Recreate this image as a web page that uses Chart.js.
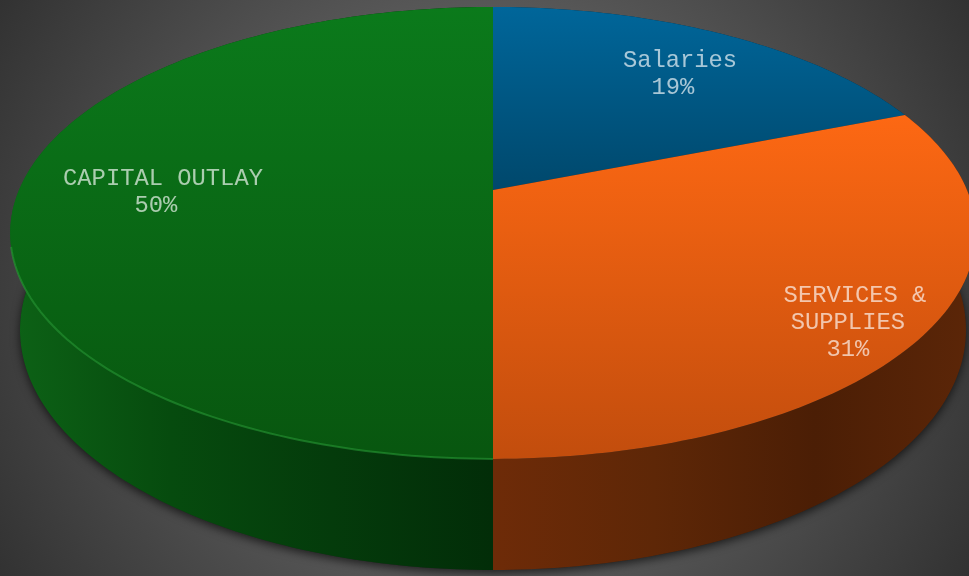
<!DOCTYPE html>
<html>
<head>
<meta charset="utf-8">
<title>Budget</title>
<script src="https://cdn.jsdelivr.net/npm/chart.js@4/dist/chart.umd.js"></script>
<style>
    html, body { margin: 0; padding: 0; overflow: hidden; }
    body {
        width: 969px;
        height: 576px;
        background: radial-gradient(circle 564px at 484px 288px, #7d7d7d 0%, #323232 100%);
    }
    canvas { display: block; }
</style>
</head>
<body>
<canvas id="grafico" width="969" height="576"></canvas>
<script>
const categorias = ["Salaries", "SERVICES & SUPPLIES", "CAPITAL OUTLAY"];
const valores = [19, 31, 50];

// line breaks and centre of each label
const lineasEtiqueta = [["Salaries"], ["SERVICES &", "SUPPLIES"], ["CAPITAL OUTLAY"]];
const posEtiqueta = [[680, 61], [855, 296], [163, 179]];

// top face: [light, dark], side wall: horizontal stops
const coloresCara = [["#00669a", "#00486c"], ["#fd6813", "#c24d0d"], ["#0b7a1b", "#08560f"]];
const coloresPared = [
    ["#002a40", "#002a40"],
    ["#6e2b08", "#5e2707", "#4b1e05", "#5c2608"],
    ["#0d6216", "#064b0e", "#043b0b", "#022d08"]
];

// perspective of the disc, the centre of the circle sits above the centre of the ellipse
const CX = 493, CY = 190;
const K = -0.19, A = 181.7, C = 474;
// lower edge of the wall
const BASE_Y = 330, BASE_RX = 473, BASE_RY = 240;

function puntoCara(ang) {
    const x = Math.cos(ang), y = Math.sin(ang);
    const w = 1 + K * y;
    return [CX + C * x / w, (CY + A * y) / w];
}

function puntoBase(ang) {
    return [CX + BASE_RX * Math.cos(ang), BASE_Y + BASE_RY * Math.sin(ang)];
}

function muestrear(ini, fin, fn) {
    const pasos = Math.ceil((fin - ini) / 0.02);
    const puntos = [];
    for (let i = 0; i <= pasos; i++) {
        puntos.push(fn(ini + (fin - ini) * i / pasos));
    }
    return puntos;
}

function trazar(ctx, puntos) {
    puntos.forEach((p, i) => i === 0 ? ctx.moveTo(p[0], p[1]) : ctx.lineTo(p[0], p[1]));
}

function dibujarSombra(ctx) {
    ctx.save();
    ctx.shadowColor = "rgba(0, 0, 0, 0.65)";
    ctx.shadowBlur = 10;
    ctx.shadowOffsetY = 3;
    ctx.fillStyle = "#222";
    ctx.beginPath();
    ctx.ellipse(CX, BASE_Y, BASE_RX, BASE_RY, 0, 0, Math.PI * 2);
    ctx.fill();
    ctx.restore();
}

function dibujarPared(ctx, arco, i) {
    const borde = muestrear(arco.startAngle, arco.endAngle, puntoCara);
    const base = muestrear(arco.startAngle, arco.endAngle, puntoBase).reverse();
    const xs = borde.concat(base).map(p => p[0]);
    const grad = ctx.createLinearGradient(Math.min(...xs), 0, Math.max(...xs), 0);
    const stops = coloresPared[i];
    stops.forEach((c, j) => grad.addColorStop(j / (stops.length - 1), c));
    ctx.fillStyle = grad;
    ctx.beginPath();
    trazar(ctx, borde);
    base.forEach(p => ctx.lineTo(p[0], p[1]));
    ctx.closePath();
    ctx.fill();
}

function dibujarCara(ctx, arco, i) {
    const borde = muestrear(arco.startAngle, arco.endAngle, puntoCara);
    const ys = borde.map(p => p[1]);
    const grad = ctx.createLinearGradient(0, Math.min(...ys), 0, Math.max(...ys, CY));
    grad.addColorStop(0, coloresCara[i][0]);
    grad.addColorStop(1, coloresCara[i][1]);
    ctx.fillStyle = grad;
    ctx.beginPath();
    ctx.moveTo(CX, CY);
    borde.forEach(p => ctx.lineTo(p[0], p[1]));
    ctx.closePath();
    ctx.fill();
}

// thin bright bevel on the front rim of the green slice
function dibujarBisel(ctx, arco) {
    const ini = Math.max(arco.startAngle, Math.PI / 2);
    const fin = Math.min(arco.endAngle, Math.PI * 0.92);
    ctx.save();
    ctx.strokeStyle = "rgba(40, 160, 55, 0.55)";
    ctx.lineWidth = 2;
    ctx.beginPath();
    trazar(ctx, muestrear(ini, fin, puntoCara));
    ctx.stroke();
    ctx.restore();
}

function dibujarEtiquetas(ctx) {
    const total = valores.reduce((s, v) => s + v, 0);
    ctx.save();
    ctx.font = "23.8px 'Liberation Mono', 'Courier New', monospace";
    ctx.fillStyle = "rgba(255, 255, 255, 0.66)";
    ctx.textAlign = "center";
    ctx.textBaseline = "middle";
    categorias.forEach((cat, i) => {
        const lineas = lineasEtiqueta[i].concat(Math.round(valores[i] / total * 100) + "%");
        lineas.forEach((txt, j) => {
            // the lines below the first carry a trailing space
            ctx.fillText(j > 0 ? txt + " " : txt, posEtiqueta[i][0], posEtiqueta[i][1] + j * 26.6);
        });
    });
    ctx.restore();
}

const pie3d = {
    id: "pie3d",
    beforeDatasetsDraw(chart) {
        const ctx = chart.ctx;
        const arcos = chart.getDatasetMeta(0).data;
        dibujarSombra(ctx);
        arcos.forEach((a, i) => dibujarPared(ctx, a, i));
        arcos.forEach((a, i) => dibujarCara(ctx, a, i));
        dibujarBisel(ctx, arcos[2]);
        dibujarEtiquetas(ctx);
        return false;
    }
};

new Chart(document.getElementById("grafico"), {
    type: "pie",
    data: {
        labels: categorias,
        datasets: [{ data: valores, borderWidth: 0 }]
    },
    options: {
        responsive: false,
        animation: false,
        plugins: {
            legend: { display: false },
            tooltip: { enabled: false }
        }
    },
    plugins: [pie3d]
});
</script>
</body>
</html>
